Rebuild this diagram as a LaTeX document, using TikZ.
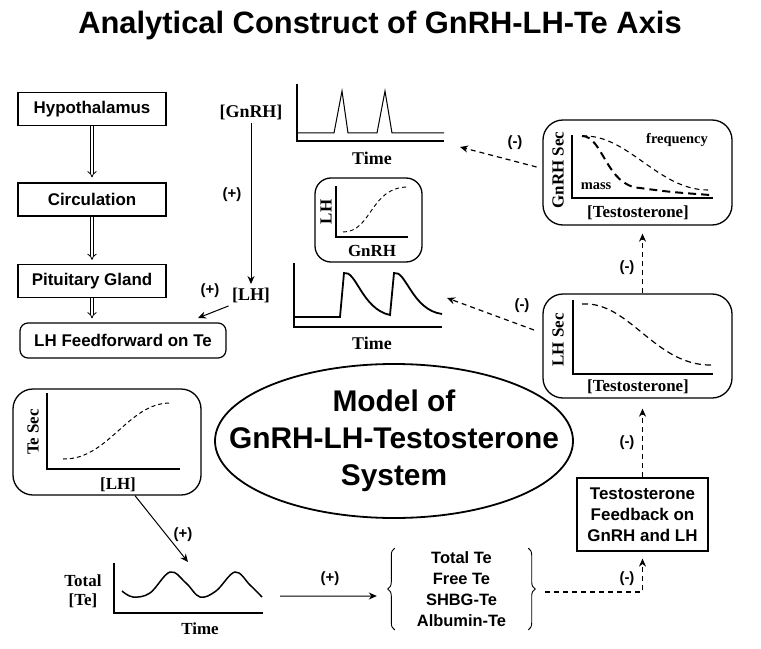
\documentclass[tikz,border=0pt]{standalone}
\usepackage{fontspec}
\setmainfont{Liberation Sans}
\newfontfamily\tnr{Liberation Serif}
\usetikzlibrary{arrows.meta,shapes.geometric,decorations.pathreplacing}
\tikzset{
  stagebox/.style={draw, line width=1.2bp, minimum width=148bp, minimum height=33bp, font=\bfseries\fontsize{17}{20}\selectfont},
  dbl/.style={double, double distance=2.4bp, line width=0.8bp, -{Implies[length=9bp, width=16bp]}},
  fwd/.style={line width=1bp, -{Stealth[length=8bp,width=7bp]}},
  fbk/.style={line width=1.2bp, dash pattern=on 5bp off 4bp, -{Stealth[length=8bp,width=7bp]}},
  sgn/.style={font=\bfseries\fontsize{15}{15}\selectfont},
  plotbox/.style={draw, rounded corners=20bp, line width=1.3bp},
  axes/.style={line width=2.2bp},
  resp/.style={line width=1bp, dash pattern=on 4bp off 3bp},
  lbl/.style={font=\tnr\bfseries\fontsize{17}{19}\selectfont},
  brc/.style={decorate, decoration={brace, amplitude=7bp}, line width=0.9bp}
}
\begin{document}
\begin{tikzpicture}[x=1bp, y=-1bp]
\useasboundingbox (0,0) rectangle (761,649);
\node[font=\bfseries\fontsize{31}{31}\selectfont] (title) at (380,26){Analytical Construct of GnRH-LH-Te Axis};

\node[stagebox] (hypo) at (92,109){Hypothalamus};
\node[stagebox] (circ) at (92,199.5){Circulation};
\node[stagebox] (pit) at (92,281){Pituitary Gland};
\node[stagebox, rounded corners=8bp, minimum width=206bp, minimum height=35bp] (lhff) at (123,340.5){LH Feedforward on Te};
\draw[dbl, shorten >=5bp] (hypo) -- (circ);
\draw[dbl, shorten >=4bp] (circ) -- (pit);
\draw[dbl, shorten >=4bp] (pit.south) -- (pit.south |- lhff.north);

\node[lbl, font=\tnr\bfseries\fontsize{18}{20}\selectfont] (gnrh) at (251,112){[GnRH]};
\node[lbl, font=\tnr\bfseries\fontsize{18}{20}\selectfont] (lh) at (251,295){[LH]};
\draw[fwd] (gnrh) -- (lh);
\node[sgn] (s1) at (232,195){(+)};
\coordinate (lhfftip) at (198,318);
\draw[fwd] (lh.south west) -- (lhfftip);
\node[sgn] (s2) at (210,291){(+)};

\draw[axes] (297,84) -- (297,141) -- (444,141);
\draw[line width=1bp] (297,133) -- (334,133) -- (342,91) -- (348,133) -- (377,133) -- (385,91) -- (392,133) -- (444,133);
\node[lbl, font=\tnr\bfseries\fontsize{18}{20}\selectfont] (time1) at (372,158){Time};
\coordinate (gnrhtip) at (460,147);

\node[plotbox, rounded corners=16bp, minimum width=107bp, minimum height=84bp] (lhgnrh) at (368.5,220){};
\draw[axes, line width=1.8bp] (336,186) -- (336,237) -- (408,237);
\draw[resp, line width=0.9bp] (343,232) .. controls (372,232) and (370,187) .. (408,187);
\node[lbl, rotate=90] (lhax) at (326,212){LH};
\node[lbl] (gnrhax) at (372,251){GnRH};

\draw[axes] (294,263) -- (294,327) -- (442,327);
\draw[line width=1.8bp] (294,317) -- (340,317) -- (344,273) .. controls (356,270) and (362,309) .. (390,315) -- (394,273) .. controls (406,270) and (412,310) .. (442,314);
\node[lbl, font=\tnr\bfseries\fontsize{18}{20}\selectfont] (time2) at (372,343){Time};
\coordinate (lhtip) at (447,298);

\node[plotbox, minimum width=189bp, minimum height=105bp] (gnrhsec) at (637.5,172.5){};
\draw[axes] (572,135) -- (572,198) -- (713,198);
\draw[line width=1.1bp, dash pattern=on 5bp off 4bp] (582,136) .. controls (628,134) and (658,190) .. (708,190);
\draw[line width=2bp, dash pattern=on 8bp off 5bp] (582,136) .. controls (603,136) and (606,186) .. (640,188) .. controls (670,192) .. (710,195);
\node[lbl, rotate=90] (gnrhsecax) at (558,170){GnRH Sec};
\node[lbl, font=\tnr\bfseries\fontsize{14.5}{16}\selectfont] (freq) at (677,140){frequency};
\node[lbl, font=\tnr\bfseries\fontsize{14.5}{16}\selectfont] (mass) at (596,186){mass};
\node[lbl] (testo1) at (638,213){[Testosterone]};
\draw[fbk, shorten <=6bp] (gnrhsec.west) ++(0,-4) -- (gnrhtip);
\node[sgn] (s3) at (515,143){(-)};

\node[plotbox, minimum width=189bp, minimum height=104bp] (lhsec) at (637.5,346){};
\draw[axes] (573,300) -- (573,374) -- (713,374);
\draw[resp, line width=1.2bp, dash pattern=on 6bp off 4bp] (582,304) .. controls (630,301) and (655,367) .. (713,365);
\node[lbl, rotate=90] (lhsecax) at (558,340){LH Sec};
\node[lbl] (testo2) at (638,387){[Testosterone]};
\draw[fbk] (534,330) -- (lhtip);
\node[sgn] (s4) at (522,306){(-)};
\draw[fbk, shorten >=8bp] ([xshift=5bp]lhsec.north) -- ([xshift=5bp]gnrhsec.south);
\node[sgn] (s5) at (627,268){(-)};

\node[draw, ellipse, inner sep=0pt, line width=1.8bp, minimum width=358bp, minimum height=154bp] (model) at (394,441){};
\node[align=center, font=\bfseries\fontsize{30}{37}\selectfont] (modeltxt) at (model.center){Model of\\GnRH-LH-Testosterone\\System};

\node[plotbox, minimum width=188bp, minimum height=106bp] (tesec) at (107,442){};
\draw[axes] (47,393) -- (47,469) -- (180,469);
\draw[resp] (63,459) .. controls (108,460) and (128,403) .. (170,403);
\node[lbl, rotate=90] (tesecax) at (33,432){Te Sec};
\node[lbl] (lhax2) at (118,485){[LH]};
\coordinate (tetip) at (188,562);
\draw[fwd] ([xshift=28bp]tesec.south) -- (tetip);
\node[sgn] (s6) at (183,535){(+)};

\draw[axes, line width=1.8bp] (114,563) -- (114,613) -- (263,613);
\draw[line width=1.5bp] plot[smooth, tension=0.6] coordinates {(122,591) (133,597) (150,593) (170,572) (186,583) (200,597) (216,591) (235,572) (250,585) (262,597)};
\node[lbl, align=center, font=\tnr\bfseries\fontsize{17}{19}\selectfont] (totte) at (83,591){Total\\{}[Te]};
\node[lbl] (time3) at (200,629){Time};
\coordinate (tetail) at (280,596);

\node[minimum width=133bp, minimum height=80bp, align=center, font=\bfseries\fontsize{16.5}{21}\selectfont] (tevals) at (461.5,589){Total Te\\Free Te\\SHBG-Te\\Albumin-Te};
\draw[brc] (tevals.south west) -- (tevals.north west);
\draw[brc] (tevals.north east) -- (tevals.south east);
\draw[fwd, shorten >=18bp] (tetail) -- ([yshift=-7bp]tevals.west);
\node[sgn] (s7) at (330,579){(+)};

\node[draw, line width=1.2bp, minimum width=131bp, minimum height=73bp, align=center, font=\bfseries\fontsize{17}{21}\selectfont] (tfb) at (642.5,514.5){Testosterone\\Feedback on\\GnRH and LH};
\draw[fbk, shorten <=17bp, shorten >=7bp] ([yshift=-3bp]tevals.east) -| (tfb.south);
\node[sgn] (s8) at (627,579){(-)};
\draw[fbk, shorten >=10bp] (tfb.north) -- (tfb.north |- lhsec.south);
\node[sgn] (s9) at (627,443){(-)};
\end{tikzpicture}
\end{document}
